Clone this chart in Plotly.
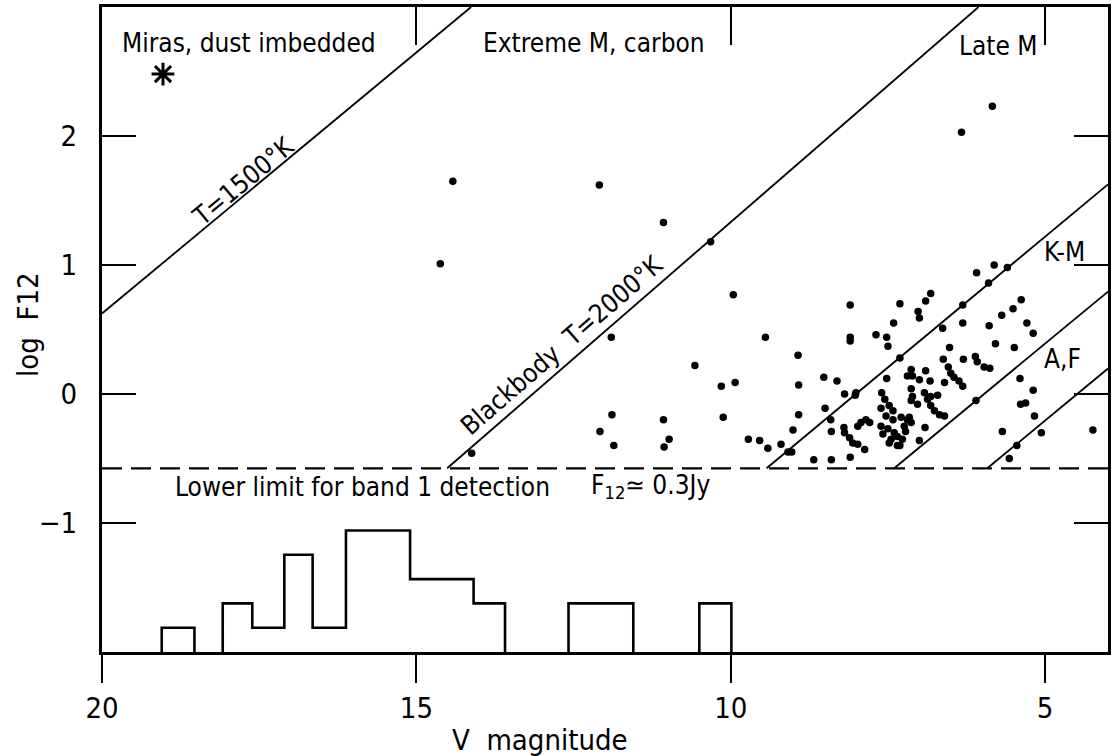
import plotly.graph_objects as go

# ---------------- data ----------------
# scatter stars: V magnitude and log F12
v_mag = [14.42, 14.62, 12.09, 11.07, 10.32, 9.96, 11.90, 10.57, 10.15, 9.93,
         11.89, 11.07, 10.12, 12.08, 11.86, 10.98, 11.06, 14.12, 5.84, 6.33,
         6.82, 6.09, 5.81, 5.60, 5.90, 6.90, 7.31, 8.10, 6.31, 5.38,
         5.51, 5.69, 7.02, 7.00, 7.41, 6.31, 6.63, 5.89, 5.29, 5.19,
         9.45, 8.10, 8.10, 7.69, 7.52, 7.50, 5.79, 5.49, 6.52, 8.93,
         7.31, 6.62, 6.30, 6.11, 6.08, 5.97, 5.88, 7.13, 7.11, 7.19,
         7.00, 6.90, 6.54, 6.50, 6.45, 6.37, 6.31, 6.83, 6.60, 5.40,
         8.52, 8.31, 7.52, 8.92, 8.19, 8.01, 8.02, 7.60, 7.13, 7.11,
         6.92, 6.82, 6.71, 6.87, 5.19, 6.10, 7.13, 7.03, 5.39, 5.31,
         8.50, 6.82, 6.76, 6.68, 6.60, 7.61, 7.48, 7.42, 7.53, 7.61,
         7.50, 7.40, 7.45, 7.35, 7.24, 7.19, 7.13, 7.29, 7.35, 7.48,
         8.92, 8.41, 7.85, 7.79, 7.93, 7.98, 5.17, 6.91, 7.16, 9.72,
         9.54, 9.41, 9.20, 9.01, 9.09, 9.03, 8.40, 8.20, 8.19, 8.11,
         8.06, 7.98, 7.87, 7.00, 7.31, 5.68, 5.06, 4.24, 5.45, 5.57,
         8.68, 8.40, 8.10, 7.58, 7.27, 7.42, 7.22, 7.55]
log_f12 = [1.65, 1.01, 1.62, 1.33, 1.18, 0.77, 0.44, 0.22, 0.06, 0.09,
           -0.16, -0.20, -0.18, -0.29, -0.40, -0.35, -0.41, -0.46, 2.23, 2.03,
           0.78, 0.94, 1.00, 0.98, 0.86, 0.72, 0.70, 0.69, 0.69, 0.73,
           0.66, 0.61, 0.64, 0.59, 0.55, 0.55, 0.51, 0.53, 0.55, 0.47,
           0.44, 0.44, 0.41, 0.46, 0.44, 0.37, 0.39, 0.36, 0.36, 0.30,
           0.28, 0.27, 0.27, 0.29, 0.25, 0.21, 0.20, 0.19, 0.14, 0.14,
           0.11, 0.18, 0.21, 0.16, 0.13, 0.10, 0.06, 0.10, 0.09, 0.12,
           0.13, 0.10, 0.12, 0.07, 0.00, 0.01, -0.01, 0.01, 0.04, -0.02,
           0.01, -0.02, -0.01, -0.04, 0.03, -0.05, -0.05, -0.08, -0.08, -0.07,
           -0.11, -0.09, -0.13, -0.16, -0.17, -0.11, -0.09, -0.13, -0.17, -0.25,
           -0.27, -0.30, -0.35, -0.33, -0.25, -0.20, -0.22, -0.18, -0.40, -0.38,
           -0.16, -0.20, -0.20, -0.22, -0.22, -0.25, -0.17, -0.26, -0.18, -0.35,
           -0.36, -0.42, -0.39, -0.28, -0.45, -0.45, -0.29, -0.26, -0.30, -0.34,
           -0.38, -0.39, -0.43, -0.36, -0.40, -0.29, -0.30, -0.28, -0.40, -0.50,
           -0.51, -0.51, -0.49, -0.31, -0.35, -0.20, -0.29, -0.04]

# Miras, dust imbedded
mira_v = [19.03]
mira_f = [2.48]

# reference lines (V, log F12 at both ends)
line_t1500_v = [20.0, 14.13]
line_t1500_f = [0.624, 3.0]
line_t2000_v = [14.51, 6.06]
line_t2000_f = [-0.576, 3.0]
line_km_v = [9.43, 4.0]
line_km_f = [-0.576, 1.625]
line_af_v = [7.40, 4.0]
line_af_f = [-0.576, 0.794]
line_af2_v = [5.92, 4.0]
line_af2_f = [-0.576, 0.198]
lower_limit = -0.576

# histogram of undetected stars (bin edges in V, counts)
hist_edges = [19.05, 18.53, 18.08, 17.61, 17.10, 16.65, 16.12, 15.10,
              14.09, 13.59, 12.58, 11.55, 10.50, 9.99]
hist_counts = [1, 0, 2, 1, 4, 1, 5, 3, 2, 0, 2, 0, 2]

x_ticks = [20, 15, 10, 5]
y_ticks = [2, 1, 0, -1]
y_tick_text = ["2", "1", "0", "\u22121"]

FONT = "DejaVu Sans Condensed, Liberation Sans Narrow, sans-serif"

fig = go.Figure()

# diagonal lines
for lv, lf in [(line_t1500_v, line_t1500_f), (line_t2000_v, line_t2000_f),
               (line_km_v, line_km_f), (line_af_v, line_af_f),
               (line_af2_v, line_af2_f)]:
    fig.add_trace(go.Scatter(x=lv, y=lf, mode="lines",
                             line=dict(color="black", width=1.8),
                             showlegend=False, hoverinfo="skip"))

# dashed lower limit
fig.add_trace(go.Scatter(x=[20, 4], y=[lower_limit, lower_limit], mode="lines",
                         line=dict(color="black", width=2.2, dash="20px,9px"),
                         showlegend=False, hoverinfo="skip"))

# scatter points
fig.add_trace(go.Scatter(x=v_mag, y=log_f12, mode="markers",
                         marker=dict(color="black", size=7.5),
                         showlegend=False))

# Mira asterisk
fig.add_trace(go.Scatter(x=mira_v, y=mira_f, mode="markers",
                         marker=dict(symbol="asterisk-open", size=19, color="black",
                                     line=dict(color="black", width=3)),
                         showlegend=False))

# histogram as step outline on its own count axis (no zero-level segments)
hx, hy = [], []
for i, c in enumerate(hist_counts):
    prev = hist_counts[i - 1] if i > 0 else 0
    nxt = hist_counts[i + 1] if i + 1 < len(hist_counts) else 0
    if c == 0:
        continue
    if prev == 0:
        hx += [None, hist_edges[i]]
        hy += [None, 0]
    hx += [hist_edges[i], hist_edges[i + 1]]
    hy += [c, c]
    if nxt == 0:
        hx += [hist_edges[i + 1]]
        hy += [0]
fig.add_trace(go.Scatter(x=hx, y=hy, mode="lines", yaxis="y3",
                         line=dict(color="black", width=2.6),
                         connectgaps=False,
                         showlegend=False, hoverinfo="skip"))

# dummy trace on top axis so its ticks render
fig.add_trace(go.Scatter(x=[20, 4], y=[-3, -3], xaxis="x2", yaxis="y",
                         mode="markers", marker=dict(opacity=0),
                         showlegend=False, hoverinfo="skip"))

ann_font = dict(family=FONT, size=26, color="black")
annotations = [
    dict(x=19.71, y=2.72, text="Miras, dust imbedded", xanchor="left"),
    dict(x=12.17, y=2.72, text="Extreme M, carbon", xanchor="center"),
    dict(x=5.08, y=2.70, text="Late M", xanchor="right"),
    dict(x=4.69, y=1.10, text="K-M", xanchor="center"),
    dict(x=4.73, y=0.27, text="A,F", xanchor="center"),
    dict(x=12.85, y=-0.72, text="Lower limit for band 1 detection", xanchor="right"),
    dict(x=12.26, y=-0.72, text="F<sub>12</sub>\u2243 0.3Jy", xanchor="left"),
    dict(x=17.75, y=1.65, text="T=1500\u00b0K", xanchor="center", textangle=-39.7),
    dict(x=12.69, y=0.38, text="Blackbody\u00a0\u00a0T=2000\u00b0K", xanchor="center",
         textangle=-41),
]
for a in annotations:
    a.update(xref="x", yref="y", showarrow=False, font=ann_font, yanchor="middle")
annotations.append(dict(x=13.04, xref="x", y=-0.136, yref="paper",
                        text="V\u00a0\u00a0magnitude", showarrow=False,
                        font=dict(family=FONT, size=29, color="black"),
                        xanchor="center", yanchor="middle"))
annotations.append(dict(x=-0.073, xref="paper", y=0.54, yref="y",
                        text="log\u00a0\u00a0F12", showarrow=False, textangle=-90,
                        font=dict(family=FONT, size=29, color="black"),
                        xanchor="center", yanchor="middle"))

fig.update_layout(
    width=1113, height=756, autosize=False,
    margin=dict(l=102, r=2, t=7, b=104),
    paper_bgcolor="white", plot_bgcolor="white",
    showlegend=False,
    annotations=annotations,
    xaxis=dict(range=[20, 4], tickvals=x_ticks, ticktext=[str(t) for t in x_ticks],
               ticks="outside", ticklen=28, tickwidth=2, tickcolor="black",
               showline=True, linewidth=3, linecolor="black", mirror=True,
               showgrid=False, zeroline=False,
               tickfont=dict(family=FONT, size=29, color="black")),
    xaxis2=dict(range=[20, 4], overlaying="x", side="top", anchor="y",
                tickvals=x_ticks,
                ticks="inside", ticklen=38, tickwidth=2, tickcolor="black",
                showticklabels=False, showgrid=False, zeroline=False,
                showline=False),
    yaxis=dict(range=[-2, 3], tickvals=y_ticks, ticktext=y_tick_text,
               ticks="inside", ticklen=34, tickwidth=2, tickcolor="black",
               showline=True, linewidth=3, linecolor="black", mirror="ticks",
               showgrid=False, zeroline=False, ticklabelstandoff=16,
               tickfont=dict(family=FONT, size=29, color="black")),
    yaxis3=dict(range=[0, 26.54], overlaying="y", visible=False),
)

fig.write_html("out.html", config={"displayModeBar": False},
               post_script="document.body.style.margin='0';")
